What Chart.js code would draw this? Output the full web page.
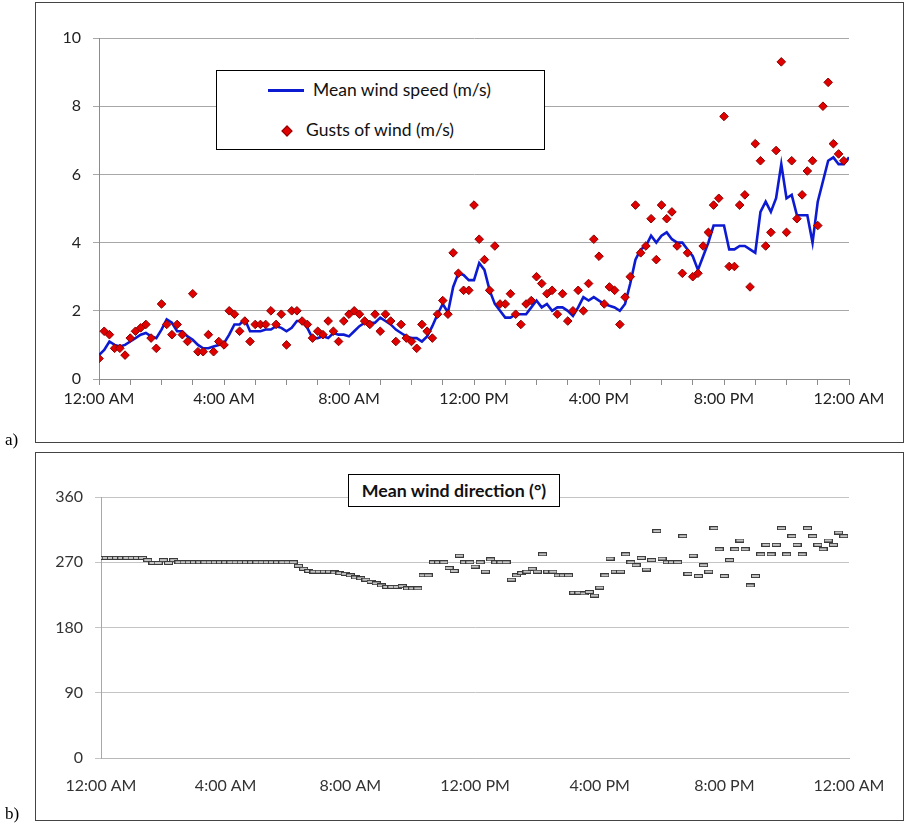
<!DOCTYPE html>
<html>
<head>
<meta charset="utf-8">
<script src="https://cdn.jsdelivr.net/npm/chart.js@4.4.0/dist/chart.umd.min.js"></script>
<style>
  body { margin: 0; background: #fff; width: 906px; height: 824px; position: relative; overflow: hidden; font-family: Lato, sans-serif; }
  .panel { position: absolute; border: 1px solid #444; box-sizing: border-box; }
  #panelA { left: 35px; top: 2px; width: 869px; height: 441px; }
  #panelB { left: 35px; top: 452px; width: 869px; height: 369px; }
  canvas { position: absolute; left: 0; }
  #speedChart { top: 0; }
  #dirChart { top: 450px; }
  .tag { position: absolute; left: 5px; font: 17px "Liberation Serif", serif; color: #000; }
  #legendA { position: absolute; left: 216px; top: 70px; width: 329px; height: 80px; border: 1px solid #000; background: #fff; box-sizing: border-box; z-index: 2; }
  #legendA .txt { position: absolute; font-size: 17.5px; color: #111; line-height: 20px; white-space: nowrap; }
  #legendA .lineMark { position: absolute; left: 51px; top: 18px; width: 36px; height: 3px; background: #0c1ad2; }
  #legendA .diamond { position: absolute; left: 66px; top: 56px; width: 6px; height: 6px; background: #e00000; border: 1px solid #8a0000; transform: rotate(45deg); }
  #titleB { position: absolute; left: 348px; top: 474px; width: 212px; height: 33px; border: 1px solid #000; background: #fff; box-sizing: border-box; z-index: 2;
            font-weight: bold; font-size: 17.8px; color: #111; text-align: center; line-height: 31px; white-space: nowrap; }
</style>
</head>
<body>
<div class="panel" id="panelA"></div>
<div class="panel" id="panelB"></div>
<canvas id="speedChart" width="906" height="445"></canvas>
<canvas id="dirChart" width="906" height="374"></canvas>
<div id="legendA">
  <div class="lineMark"></div>
  <div class="txt" style="left:96px; top:9px;">Mean wind speed (m/s)</div>
  <div class="diamond"></div>
  <div class="txt" style="left:89px; top:49px;">Gusts of wind (m/s)</div>
</div>
<div id="titleB">Mean wind direction (°)</div>
<div class="tag" style="top:430px;">a)</div>
<div class="tag" style="top:804px;">b)</div>

<script>
// one reading every 10 minutes, midnight to midnight
const stepMinutes = 10;
const timeLabels = ['12:00 AM', '4:00 AM', '8:00 AM', '12:00 PM', '4:00 PM', '8:00 PM', '12:00 AM'];

const meanSpeed = [
  0.7, 0.85, 1.1, 1.0, 0.95, 1.0, 1.1, 1.2, 1.3, 1.35, 1.25, 1.2, 1.45, 1.75, 1.65, 1.4, 1.4, 1.25, 1.15, 1.0,
  0.9, 0.9, 0.95, 1.0, 1.05, 1.3, 1.6, 1.6, 1.75, 1.4, 1.4, 1.4, 1.45, 1.45, 1.55, 1.5, 1.4, 1.5, 1.7, 1.7,
  1.5, 1.2, 1.2, 1.25, 1.2, 1.35, 1.3, 1.3, 1.25, 1.4, 1.55, 1.65, 1.65, 1.65, 1.8, 1.7, 1.6, 1.45, 1.35, 1.25,
  1.2, 1.2, 1.1, 1.25, 1.55, 1.9, 2.2, 1.95, 2.7, 3.1, 3.05, 2.9, 2.9, 3.4, 3.2, 2.6, 2.2, 2.0, 1.8, 1.8,
  1.9, 1.9, 1.9, 2.1, 2.3, 2.1, 2.2, 2.0, 2.1, 2.1, 2.0, 1.85, 2.1, 2.4, 2.3, 2.4, 2.3, 2.2, 2.15, 2.1,
  2.0, 2.2, 2.8, 3.5, 3.8, 3.9, 4.2, 4.0, 4.2, 4.3, 4.1, 4.0, 4.0, 3.8, 3.6, 3.2, 3.6, 4.0, 4.5, 4.5,
  4.5, 3.8, 3.8, 3.9, 3.9, 3.8, 3.7, 4.9, 5.2, 4.9, 5.3, 6.3, 5.3, 5.4, 4.8, 4.8, 4.8, 4.0, 5.2, 5.8,
  6.4, 6.5, 6.3, 6.3, 6.5
];

const gustSpeed = [
  0.6, 1.4, 1.3, 0.9, 0.9, 0.7, 1.2, 1.4, 1.5, 1.6, 1.2, 0.9, 2.2, 1.6, 1.3, 1.6, 1.3, 1.1, 2.5, 0.8,
  0.8, 1.3, 0.8, 1.1, 1.0, 2.0, 1.9, 1.4, 1.7, 1.1, 1.6, 1.6, 1.6, 2.0, 1.6, 1.9, 1.0, 2.0, 2.0, 1.7,
  1.6, 1.2, 1.4, 1.3, 1.7, 1.4, 1.1, 1.7, 1.9, 2.0, 1.9, 1.7, 1.6, 1.9, 1.4, 1.9, 1.7, 1.1, 1.6, 1.2,
  1.1, 0.9, 1.6, 1.4, 1.2, 1.9, 2.3, 1.9, 3.7, 3.1, 2.6, 2.6, 5.1, 4.1, 3.5, 2.6, 3.9, 2.2, 2.2, 2.5,
  1.9, 1.6, 2.2, 2.3, 3.0, 2.8, 2.5, 2.6, 1.9, 2.5, 1.7, 2.0, 2.6, 2.0, 2.8, 4.1, 3.6, 2.2, 2.7, 2.6,
  1.6, 2.4, 3.0, 5.1, 3.7, 3.9, 4.7, 3.5, 5.1, 4.7, 4.9, 3.9, 3.1, 3.7, 3.0, 3.1, 3.9, 4.3, 5.1, 5.3,
  7.7, 3.3, 3.3, 5.1, 5.4, 2.7, 6.9, 6.4, 3.9, 4.3, 6.7, 9.3, 4.3, 6.4, 4.7, 5.4, 6.1, 6.4, 4.5, 8.0,
  8.7, 6.9, 6.6, 6.4, null
];

const meanDirection = [
  276, 276, 276, 276, 276, 276, 276, 276, 276, 273, 269, 269, 273, 269, 273, 270, 270, 270, 270, 270,
  270, 270, 270, 270, 270, 270, 270, 270, 270, 270, 270, 270, 270, 270, 270, 270, 270, 270, 265, 261,
  258, 257, 257, 257, 257, 256, 255, 254, 252, 249, 248, 246, 243, 241, 238, 236, 236, 236, 237, 234,
  234, 234, 252, 252, 270, 270, 270, 262, 258, 279, 270, 270, 264, 270, 257, 274, 270, 270, 270, 246,
  252, 255, 257, 261, 257, 281, 257, 257, 252, 252, 252, 228, 228, 227, 229, 224, 235, 252, 275, 257,
  257, 281, 270, 266, 276, 260, 273, 313, 275, 270, 270, 270, 306, 254, 279, 251, 266, 257, 317, 288,
  251, 273, 288, 300, 288, 238, 251, 281, 294, 281, 294, 317, 281, 306, 294, 281, 317, 306, 294, 288,
  300, 294, 311, 306, null
];

const toPoints = arr => arr.map((v, i) => ({ x: i * stepMinutes, y: v }));
const timeTick = v => (v % 240 === 0 ? timeLabels[v / 240] : '');

Chart.defaults.font.family = 'Lato, sans-serif';
Chart.defaults.font.size = 16;

// a) wind speed
new Chart(document.getElementById('speedChart'), {
  type: 'line',
  data: {
    datasets: [
      {
        label: 'Gusts of wind (m/s)',
        data: toPoints(gustSpeed),
        showLine: false,
        pointStyle: 'rectRot',
        pointRadius: 4.3,
        pointBackgroundColor: '#e00000',
        pointBorderColor: '#8a0000',
        pointBorderWidth: 1,
        order: 0
      },
      {
        label: 'Mean wind speed (m/s)',
        data: toPoints(meanSpeed),
        borderColor: '#0c1ad2',
        borderWidth: 2.6,
        pointRadius: 0,
        tension: 0,
        order: 1
      }
    ]
  },
  options: {
    responsive: false,
    animation: false,
    layout: { padding: { top: 38, right: 57, bottom: 0, left: 0 } },
    plugins: { legend: { display: false }, tooltip: { enabled: false } },
    scales: {
      x: {
        type: 'linear', min: 0, max: 1440,
        afterFit: s => { s.height = 66; },
        ticks: { stepSize: 60, autoSkip: false, maxRotation: 0, padding: 4, color: '#222', callback: timeTick },
        grid: { drawOnChartArea: false, drawTicks: true, tickLength: 6, color: '#8c8c8c' },
        border: { color: '#8c8c8c' }
      },
      y: {
        min: 0, max: 10,
        afterFit: s => { s.width = 99; },
        ticks: { stepSize: 2, padding: 12, color: '#222' },
        grid: { color: '#a8a8a8', tickLength: 6 },
        border: { color: '#8c8c8c' }
      }
    }
  }
});

// b) wind direction, small grey bar markers
const dirMarker = document.createElement('canvas');
dirMarker.width = 9;
dirMarker.height = 4;
const mctx = dirMarker.getContext('2d');
mctx.fillStyle = '#c4c4c4';
mctx.fillRect(0, 0, 9, 4);
mctx.strokeStyle = '#3a3a3a';
mctx.lineWidth = 1;
mctx.strokeRect(0.5, 0.5, 8, 3);

new Chart(document.getElementById('dirChart'), {
  type: 'line',
  data: {
    datasets: [{
      label: 'Mean wind direction (°)',
      data: toPoints(meanDirection),
      showLine: false,
      pointStyle: dirMarker,
      pointRadius: 4
    }]
  },
  options: {
    responsive: false,
    animation: false,
    layout: { padding: { top: 47, right: 57, bottom: 0, left: 0 } },
    plugins: { legend: { display: false }, tooltip: { enabled: false } },
    scales: {
      x: {
        type: 'linear', min: 0, max: 1440,
        afterFit: s => { s.height = 66; },
        ticks: { stepSize: 240, autoSkip: false, maxRotation: 0, padding: 18, color: '#333', callback: timeTick },
        grid: { drawOnChartArea: false, drawTicks: false },
        border: { color: '#b8b8b8' }
      },
      y: {
        min: 0, max: 360,
        afterFit: s => { s.width = 101; },
        ticks: { stepSize: 90, padding: 12, color: '#333' },
        grid: { color: '#c4c4c4', tickLength: 6 },
        border: { color: '#a8a8a8' }
      }
    }
  }
});
</script>
</body>
</html>
